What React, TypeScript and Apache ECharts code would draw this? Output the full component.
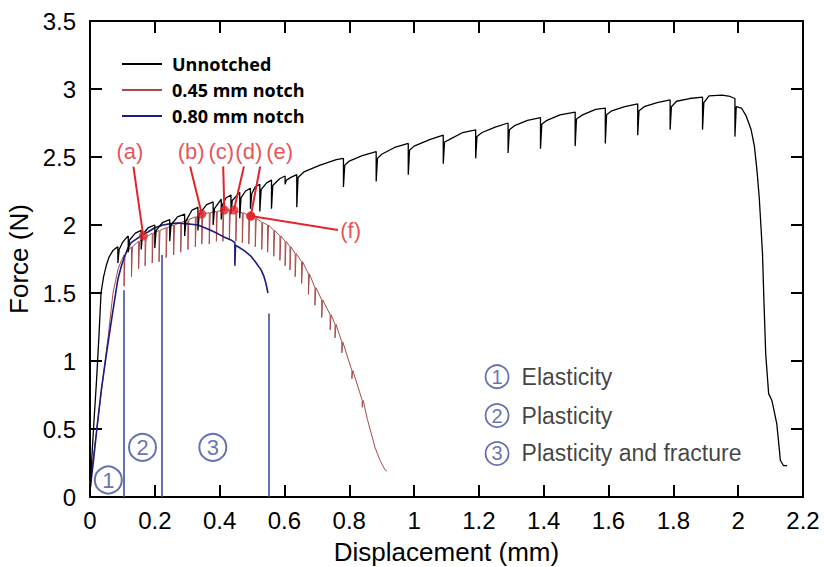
import React, { useEffect, useRef } from "react";
import * as echarts from "echarts";

// ---------- data ----------
const seriesNames = ["Unnotched", "0.45 mm notch", "0.80 mm notch"];

// Unnotched: smooth segments between relaxation drops [x, force]
const unnotchedPath: [number, number][] = [
  [0, 0], [0.004, 0.22], [0.012, 0.55], [0.02, 0.85], [0.028, 1.2], [0.034, 1.5],
  [0.042, 1.62], [0.05, 1.7], [0.058, 1.76], [0.07, 1.81], [0.08, 1.83],
  [0.1, 1.87], [0.11, 1.9], [0.14, 1.94], [0.18, 1.98], [0.225, 2.02], [0.27, 2.06],
  [0.315, 2.11], [0.36, 2.15], [0.42, 2.2], [0.48, 2.25], [0.51, 2.28], [0.545, 2.31],
  [0.585, 2.34], [0.62, 2.35], [0.66, 2.39], [0.71, 2.44], [0.76, 2.48],
  [0.8, 2.47], [0.84, 2.51], [0.9, 2.52], [0.94, 2.57], [1.0, 2.58], [1.05, 2.63],
  [1.11, 2.63], [1.15, 2.68], [1.21, 2.68], [1.25, 2.72], [1.31, 2.73], [1.35, 2.77],
  [1.41, 2.77], [1.45, 2.81], [1.52, 2.81], [1.56, 2.85], [1.61, 2.84], [1.65, 2.87],
  [1.71, 2.87], [1.75, 2.9], [1.81, 2.91], [1.85, 2.93], [1.91, 2.95], [1.95, 2.955],
  [1.975, 2.945],
  [2.01, 2.86], [2.025, 2.8], [2.04, 2.7], [2.05, 2.58], [2.058, 2.4], [2.065, 2.2],
  [2.07, 2.0], [2.075, 1.79], [2.08, 1.4], [2.085, 1.05], [2.094, 0.76], [2.104, 0.71],
  [2.119, 0.54], [2.127, 0.35], [2.13, 0.27], [2.14, 0.23], [2.151, 0.23],
];
// Unnotched drops: [x, top, bottom, recovered]
const unnotchedDrops: [number, number, number, number][] = [
  [0.086, 1.84, 1.72, 1.82], [0.118, 1.92, 1.8, 1.89], [0.158, 1.96, 1.82, 1.93],
  [0.2, 2.0, 1.83, 1.96], [0.246, 2.04, 1.88, 2.0], [0.292, 2.08, 1.92, 2.03],
  [0.333, 2.13, 1.96, 2.08], [0.38, 2.17, 2.0, 2.12], [0.405, 2.19, 2.04, 2.15],
  [0.435, 2.22, 2.08, 2.18], [0.462, 2.24, 2.05, 2.2], [0.495, 2.27, 2.12, 2.23],
  [0.524, 2.3, 2.1, 2.26], [0.56, 2.33, 2.12, 2.29], [0.602, 2.36, 2.3, 2.33],
  [0.638, 2.37, 2.13, 2.35], [0.782, 2.49, 2.28, 2.44], [0.883, 2.54, 2.32, 2.49],
  [0.982, 2.6, 2.37, 2.55], [1.09, 2.66, 2.45, 2.61], [1.19, 2.7, 2.49, 2.65],
  [1.29, 2.75, 2.53, 2.7], [1.39, 2.79, 2.56, 2.74], [1.497, 2.83, 2.58, 2.78],
  [1.59, 2.86, 2.6, 2.81], [1.69, 2.89, 2.66, 2.84], [1.79, 2.92, 2.7, 2.87],
  [1.89, 2.94, 2.7, 2.9], [1.99, 2.93, 2.65, 2.87],
];

// 0.45 mm notch: rise and tail [x, force]
const notch45Path: [number, number][] = [
  [0, 0.1], [0.02, 0.48], [0.04, 0.87], [0.056, 1.18], [0.071, 1.5], [0.086, 1.67], [0.097, 1.74],
  [0.856, 0.57], [0.88, 0.36], [0.895, 0.27], [0.91, 0.2], [0.916, 0.19],
];
// 0.45 mm notch teeth: [x, top, bottom]
const notch45Teeth: [number, number, number][] = [
  [0.105, 1.78, 1.55], [0.128, 1.84, 1.62], [0.15, 1.88, 1.68], [0.17, 1.91, 1.7],
  [0.192, 1.94, 1.72], [0.213, 1.96, 1.73], [0.235, 1.98, 1.76], [0.258, 2.0, 1.78],
  [0.28, 2.02, 1.8], [0.302, 2.04, 1.82], [0.325, 2.06, 1.84], [0.345, 2.08, 1.86],
  [0.368, 2.09, 1.86], [0.39, 2.1, 1.88], [0.41, 2.11, 1.88], [0.43, 2.11, 1.89],
  [0.45, 2.1, 1.88], [0.47, 2.09, 1.87], [0.49, 2.07, 1.86], [0.51, 2.05, 1.84],
  [0.53, 2.02, 1.82], [0.548, 2.0, 1.8], [0.567, 1.96, 1.77], [0.586, 1.92, 1.74],
  [0.602, 1.88, 1.7], [0.617, 1.84, 1.67], [0.633, 1.79, 1.62], [0.653, 1.73, 1.57],
  [0.674, 1.64, 1.49], [0.694, 1.54, 1.41], [0.715, 1.45, 1.32], [0.741, 1.34, 1.23],
  [0.756, 1.27, 1.17], [0.777, 1.14, 1.06], [0.808, 0.93, 0.87], [0.84, 0.71, 0.66],
];

// 0.80 mm notch [x, force]
const notch80: [number, number][] = [
  [0, 0.05], [0.01, 0.25], [0.022, 0.52], [0.035, 0.79], [0.05, 1.04], [0.065, 1.28],
  [0.076, 1.45], [0.086, 1.6], [0.097, 1.7], [0.107, 1.77], [0.117, 1.83], [0.127, 1.87],
  [0.145, 1.9], [0.164, 1.93], [0.18, 1.95], [0.2, 1.98], [0.225, 2.0], [0.25, 2.01],
  [0.27, 2.015], [0.292, 2.01], [0.313, 2.005], [0.333, 2.0], [0.354, 1.98], [0.374, 1.96],
  [0.395, 1.935], [0.415, 1.91], [0.435, 1.89], [0.447, 1.87], [0.447, 1.7], [0.449, 1.85],
  [0.457, 1.84], [0.477, 1.81], [0.497, 1.77], [0.513, 1.72], [0.528, 1.67], [0.537, 1.62],
  [0.543, 1.57], [0.549, 1.5],
];

// Stage boundaries: [x, top force]
const stageLines: [number, number][] = [[0.104, 1.52], [0.22, 1.78], [0.55, 1.35]];
// Stage markers inside the plot
const stageMarks: [string, number, number][] = [["1", 0.0565, 0.125], ["2", 0.162, 0.365], ["3", 0.379, 0.365]];
// Stage key (right)
const stageKey: [string, string, number, number][] = [
  ["1", "Elasticity", 1.256, 0.885],
  ["2", "Plasticity", 1.256, 0.599],
  ["3", "Plasticity and fracture", 1.256, 0.32],
];

// Annotations (a)-(f): [label, labelX, labelY, leaderX, leaderY, pointX, pointY]
const annotations: [string, number, number, number, number, number, number][] = [
  ["(a)", 0.123, 2.54, 0.134, 2.43, 0.1645, 1.919],
  ["(b)", 0.312, 2.54, 0.309, 2.43, 0.345, 2.081],
  ["(c)", 0.405, 2.54, 0.411, 2.43, 0.4145, 2.11],
  ["(d)", 0.49, 2.54, 0.475, 2.43, 0.444, 2.11],
  ["(e)", 0.585, 2.54, 0.525, 2.43, 0.496, 2.066],
  ["(f)", 0.804, 1.963, 0.765, 1.963, 0.496, 2.066],
];

// ---------- build series data ----------
function buildWithDrops(path: [number, number][], drops: [number, number, number, number][]) {
  const pts: [number, number][] = [...path];
  drops.forEach(([x, t, b, r]) => {
    pts.push([x, t], [x, b], [x + 0.004, r]);
  });
  return pts.map((p, i) => ({ p, i })).sort((a, b) => a.p[0] - b.p[0] || a.i - b.i).map((o) => o.p);
}
function buildTeeth(path: [number, number][], teeth: [number, number, number][]) {
  const pts: [number, number][] = [...path];
  teeth.forEach(([x, t, b]) => {
    pts.push([x, t], [x, b], [x + 0.003, t]);
  });
  return pts.map((p, i) => ({ p, i })).sort((a, b) => a.p[0] - b.p[0] || a.i - b.i).map((o) => o.p);
}

const AXF = "'Liberation Sans', Arial, sans-serif";
const RED = "#e0262a";
const STAGE = "#3f4f9f";

function axisCommon(showLabel: boolean) {
  return {
    type: "value" as const,
    axisLine: { show: true, onZero: false, lineStyle: { color: "#000", width: 2 } },
    axisTick: { show: true, inside: true, length: 12, lineStyle: { color: "#000", width: 2 } },
    splitLine: { show: false },
    axisLabel: { show: showLabel, color: "#000", fontSize: 24, fontFamily: AXF },
  };
}

export default function App() {
  const ref = useRef<HTMLDivElement>(null);
  useEffect(() => {
    const chart = echarts.init(ref.current!, null, { renderer: "svg" });
    const option: any = {
      animation: false,
      backgroundColor: "#fff",
      grid: { left: 90, right: 21, top: 21, bottom: 70, containLabel: false, outerBoundsMode: "none" },
      legend: {
        data: seriesNames,
        orient: "vertical",
        left: 117,
        top: 49,
        itemWidth: 40,
        itemHeight: 2,
        itemGap: 6,
        icon: "rect",
        textStyle: {
          fontFamily: "'Open Sans', sans-serif",
          fontWeight: "bold",
          fontSize: 18,
          color: "#000",
          lineHeight: 20,
          padding: [0, 0, 0, 5],
        },
      },
      xAxis: [
        {
          ...axisCommon(true),
          min: 0, max: 2.2, interval: 0.2, position: "bottom",
          name: "Displacement (mm)", nameLocation: "middle", nameGap: 42,
          nameTextStyle: { fontSize: 26, color: "#000", fontFamily: AXF },
          axisLabel: { show: true, color: "#000", fontSize: 24, fontFamily: AXF, margin: 11 },
        },
        { ...axisCommon(false), min: 0, max: 2.2, interval: 0.2, position: "top" },
      ],
      yAxis: [
        {
          ...axisCommon(true),
          min: 0, max: 3.5, interval: 0.5, position: "left",
          name: "Force (N)", nameLocation: "middle", nameGap: 50,
          nameTextStyle: { fontSize: 26, color: "#000", fontFamily: AXF },
          axisLabel: { show: true, color: "#000", fontSize: 24, fontFamily: AXF, margin: 14 },
        },
        { ...axisCommon(false), min: 0, max: 3.5, interval: 0.5, position: "right" },
      ],
      series: [
        {
          name: seriesNames[1], type: "line", data: buildTeeth(notch45Path, notch45Teeth),
          showSymbol: false, symbol: "none", color: "#a64b4b",
          lineStyle: { color: "#a64b4b", width: 1 }, z: 2,
        },
        {
          name: seriesNames[2], type: "line", data: notch80,
          showSymbol: false, symbol: "none", color: "#1c1c7c",
          lineStyle: { color: "#1c1c7c", width: 1.6 }, z: 3,
        },
        {
          name: seriesNames[0], type: "line", data: buildWithDrops(unnotchedPath, unnotchedDrops),
          showSymbol: false, symbol: "none", color: "#000",
          lineStyle: { color: "#000", width: 1.3 }, z: 4,
        },
        {
          type: "lines", coordinateSystem: "cartesian2d", z: 5,
          data: stageLines.map(([x, t]) => ({ coords: [[x, 0], [x, t]] })),
          lineStyle: { color: STAGE, width: 1.6, opacity: 1 },
        },
        {
          type: "scatter", z: 6, symbol: "circle", symbolSize: 27,
          data: stageMarks.map(([n, x, y]) => ({ name: n, value: [x, y] })),
          itemStyle: { color: "rgba(0,0,0,0)", borderColor: STAGE, borderWidth: 2 },
          label: { show: true, position: "inside", formatter: "{b}", color: STAGE, fontSize: 22, fontFamily: AXF },
        },
        {
          type: "scatter", z: 6, symbol: "circle", symbolSize: 23,
          data: stageKey.map(([n, , x, y]) => ({ name: n, value: [x, y] })),
          itemStyle: { color: "rgba(0,0,0,0)", borderColor: STAGE, borderWidth: 1.8 },
          label: { show: true, position: "inside", formatter: "{b}", color: STAGE, fontSize: 20, fontFamily: AXF },
        },
        {
          type: "scatter", z: 6, symbol: "circle", symbolSize: 23,
          data: stageKey.map(([, t, x, y]) => ({ name: t, value: [x, y] })),
          itemStyle: { color: "rgba(0,0,0,0)" },
          label: { show: true, position: "right", distance: 13, formatter: "{b}", color: "#111", fontSize: 23, fontFamily: AXF },
        },
        {
          type: "lines", coordinateSystem: "cartesian2d", z: 7,
          data: annotations.map(([, , , lx, ly, px, py]) => ({ coords: [[lx, ly], [px, py]] })),
          lineStyle: { color: RED, width: 2, opacity: 1 },
        },
        {
          type: "scatter", z: 8, symbol: "circle", symbolSize: 9,
          data: annotations.map(([n, , , , , px, py]) => ({ name: n, value: [px, py] })),
          itemStyle: { color: RED },
        },
        {
          type: "scatter", z: 8, symbolSize: 2,
          data: annotations.map(([n, x, y]) => ({ name: n, value: [x, y] })),
          itemStyle: { color: "rgba(0,0,0,0)" },
          label: { show: true, position: "inside", formatter: "{b}", color: RED, fontSize: 22, fontFamily: AXF },
        },
      ],
    };
    chart.setOption(option);
    return () => chart.dispose();
  }, []);
  return <div ref={ref} style={{ position: "absolute", left: 0, top: 0, width: 824, height: 567 }} />;
}
